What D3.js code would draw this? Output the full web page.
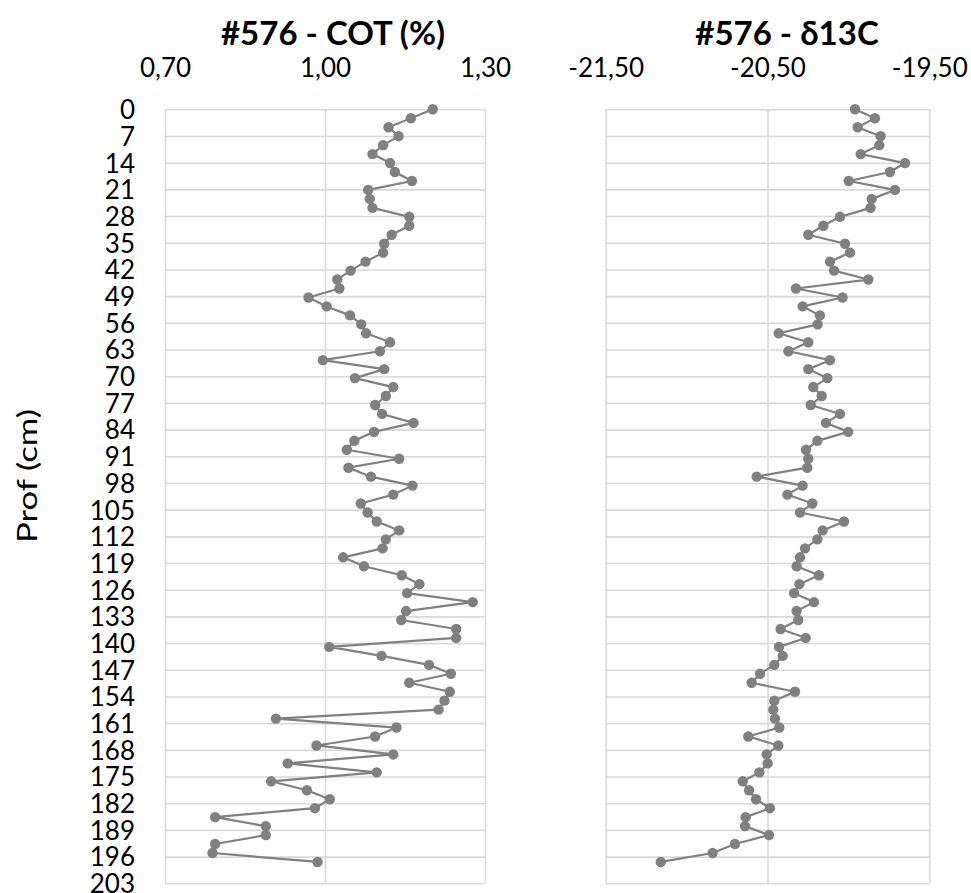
<!DOCTYPE html>
<html>
<head>
<meta charset="utf-8">
<script src="https://cdn.jsdelivr.net/npm/d3@7/dist/d3.min.js"></script>
<style>
  html, body { margin: 0; padding: 0; background: #fff; }
  svg { display: block; }
  text { font-family: Lato, "Open Sans", sans-serif; fill: #000; }
</style>
</head>
<body>
<svg id="chart" width="971" height="893"></svg>
<script>
// ---- data ----
const depths = [0, 2.35, 4.7, 7.05, 9.4, 11.75, 14.1, 16.45, 18.8, 21.15, 23.5, 25.85, 28.2, 30.55, 32.9,
  35.25, 37.6, 39.95, 42.3, 44.65, 47, 49.35, 51.7, 54.05, 56.4, 58.75, 61.1, 63.45, 65.8, 68.15,
  70.5, 72.85, 75.2, 77.55, 79.9, 82.25, 84.6, 86.95, 89.3, 91.65, 94, 96.35, 98.7, 101.05, 103.4,
  105.75, 108.1, 110.45, 112.8, 115.15, 117.5, 119.85, 122.2, 124.55, 126.9, 129.25, 131.6, 133.95,
  136.3, 138.65, 141, 143.35, 145.7, 148.05, 150.4, 152.75, 155.1, 157.45, 159.8, 162.15, 164.5,
  166.85, 169.2, 171.55, 173.9, 176.25, 178.6, 180.95, 183.3, 185.65, 188, 190.35, 192.7, 195.05, 197.4];

const cot = [1.202, 1.161, 1.119, 1.138, 1.109, 1.089, 1.122, 1.131, 1.163, 1.081, 1.084, 1.089, 1.158,
  1.158, 1.125, 1.111, 1.109, 1.076, 1.048, 1.023, 1.027, 0.969, 1.003, 1.047, 1.068, 1.077, 1.122,
  1.103, 0.996, 1.111, 1.056, 1.128, 1.114, 1.094, 1.107, 1.166, 1.092, 1.055, 1.041, 1.139, 1.044,
  1.086, 1.164, 1.128, 1.067, 1.080, 1.097, 1.139, 1.114, 1.108, 1.034, 1.073, 1.144, 1.177, 1.154,
  1.277, 1.152, 1.143, 1.246, 1.246, 1.008, 1.106, 1.195, 1.236, 1.158, 1.234, 1.224, 1.213, 0.908,
  1.134, 1.094, 0.984, 1.128, 0.930, 1.097, 0.899, 0.966, 1.009, 0.981, 0.794, 0.889, 0.889, 0.794,
  0.789, 0.986];

const d13c = [-19.959, -19.836, -19.943, -19.801, -19.809, -19.924, -19.650, -19.743, -19.998, -19.712,
  -19.856, -19.863, -20.052, -20.155, -20.248, -20.021, -19.990, -20.114, -20.089, -19.877, -20.324,
  -20.036, -20.283, -20.176, -20.190, -20.431, -20.248, -20.371, -20.114, -20.248, -20.130, -20.217,
  -20.165, -20.233, -20.052, -20.139, -20.001, -20.192, -20.262, -20.248, -20.254, -20.567, -20.283,
  -20.377, -20.223, -20.299, -20.027, -20.159, -20.192, -20.268, -20.299, -20.320, -20.182, -20.303,
  -20.336, -20.213, -20.320, -20.310, -20.419, -20.264, -20.429, -20.406, -20.458, -20.546, -20.598,
  -20.330, -20.458, -20.464, -20.454, -20.427, -20.619, -20.433, -20.505, -20.499, -20.550, -20.653,
  -20.614, -20.571, -20.485, -20.635, -20.639, -20.491, -20.701, -20.839, -21.160];

const cotTicks = [0.70, 1.00, 1.30];
const d13cTicks = [-21.50, -20.50, -19.50];
const depthTicks = [0, 7, 14, 21, 28, 35, 42, 49, 56, 63, 70, 77, 84, 91, 98, 105, 112, 119, 126, 133,
  140, 147, 154, 161, 168, 175, 182, 189, 196, 203];

const titles = ["#576 - COT (%)", "#576 - δ13C"];
const yTitle = "Prof (cm)";

// ---- layout ----
const svg = d3.select("#chart");
const plotTop = 109.3, plotBottom = 883.3;
const panels = [
  { left: 165, right: 485, domain: [0.70, 1.30], ticks: cotTicks, values: cot, title: titles[0], titleX: 333, showY: true },
  { left: 605.7, right: 929.3, domain: [-21.50, -19.50], ticks: d13cTicks, values: d13c, title: titles[1], titleX: 787, showY: false }
];

const locale = d3.formatLocale({ decimal: ",", thousands: ".", grouping: [3], currency: ["", ""], minus: "-" });
const fmt = locale.format(".2f");

const y = d3.scaleLinear().domain([0, 203]).range([plotTop, plotBottom]);
const gridColor = "#d9d9d9";
const markColor = "#808080";

panels.forEach(p => {
  const x = d3.scaleLinear().domain(p.domain).range([p.left, p.right]);
  const w = p.right - p.left, h = plotBottom - plotTop;

  // horizontal gridlines (+ y labels on first panel)
  const gy = svg.append("g").attr("transform", `translate(${p.left},0)`)
    .call(d3.axisLeft(y).tickValues(depthTicks).tickSize(-w).tickPadding(30)
      .tickFormat(p.showY ? d3.format("d") : () => ""));
  gy.select(".domain").remove();
  gy.selectAll(".tick line").attr("stroke", gridColor).attr("stroke-width", 1.6);
  gy.selectAll(".tick text").attr("font-size", 26).attr("font-family", "Lato").attr("fill", "#000")
    .attr("dy", "0.36em");

  // vertical gridlines + top x labels
  const gx = svg.append("g").attr("transform", `translate(0,${plotTop})`)
    .call(d3.axisTop(x).tickValues(p.ticks).tickSize(-h).tickPadding(32).tickFormat(fmt));
  gx.select(".domain").remove();
  gx.selectAll(".tick line").attr("stroke", gridColor).attr("stroke-width", 1.6);
  gx.selectAll(".tick text").attr("font-size", 26).attr("font-family", "Lato").attr("fill", "#000");

  // title
  svg.append("text").attr("x", p.titleX).attr("y", 45).attr("text-anchor", "middle")
    .attr("font-size", 33).attr("font-weight", "bold").text(p.title);

  // line + markers
  const pts = p.values.map((v, i) => [v, depths[i]]);
  svg.append("path").datum(pts)
    .attr("fill", "none").attr("stroke", markColor).attr("stroke-width", 2.2)
    .attr("stroke-linejoin", "round")
    .attr("d", d3.line().x(d => x(d[0])).y(d => y(d[1])));
  svg.append("g").selectAll("circle").data(pts).join("circle")
    .attr("cx", d => x(d[0])).attr("cy", d => y(d[1])).attr("r", 5.2)
    .attr("fill", markColor);
});

// y axis title
svg.append("text")
  .attr("transform", "translate(37,476) rotate(-90)")
  .attr("text-anchor", "middle")
  .attr("font-size", 27)
  .attr("font-weight", "normal")
  .attr("textLength", 134).attr("lengthAdjust", "spacingAndGlyphs")
  .text(yTitle);
</script>
</body>
</html>
